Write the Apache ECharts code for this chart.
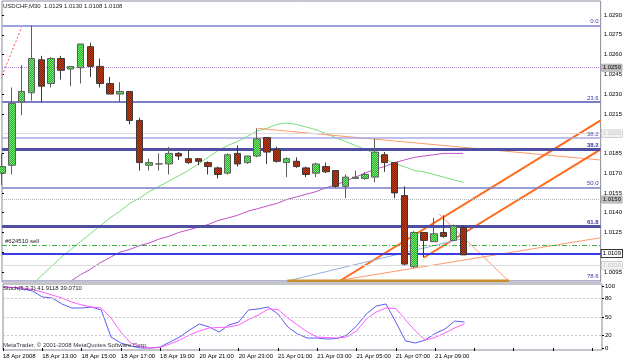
<!DOCTYPE html>
<html><head><meta charset="utf-8">
<script src="https://cdn.jsdelivr.net/npm/echarts@6/dist/echarts.min.js"></script>
<style>html,body{margin:0;padding:0;background:#fff}#c{width:625px;height:363px}</style>
</head><body><div id="c"></div>
<script>
// ---------- data ----------
const times = ['18 Apr 2008','18 Apr 11:30','18 Apr 12:00','18 Apr 12:30','18 Apr 13:00','18 Apr 13:30','18 Apr 14:00','18 Apr 14:30',
'18 Apr 15:00','18 Apr 15:30','18 Apr 16:00','18 Apr 16:30','18 Apr 17:00','18 Apr 17:30','18 Apr 18:00','18 Apr 18:30',
'18 Apr 19:00','18 Apr 19:30','18 Apr 20:00','18 Apr 20:30','20 Apr 21:00','20 Apr 21:30','20 Apr 22:00','20 Apr 22:30',
'20 Apr 23:00','20 Apr 23:30','21 Apr 00:00','21 Apr 00:30','21 Apr 01:00','21 Apr 01:30','21 Apr 02:00','21 Apr 02:30',
'21 Apr 03:00','21 Apr 03:30','21 Apr 04:00','21 Apr 04:30','21 Apr 05:00','21 Apr 05:30','21 Apr 06:00','21 Apr 06:30',
'21 Apr 07:00','21 Apr 07:30','21 Apr 08:00','21 Apr 08:30','21 Apr 09:00','21 Apr 09:30','21 Apr 10:00','21 Apr 10:30'];
const opens  = [1.0170,1.0176,1.0224,1.0231,1.0256,1.0238,1.0257,1.0249,1.0250,1.0266,1.0251,1.0238,1.0230,1.0232,1.0210,1.0176,1.0177,1.0177,1.0185,1.0181,1.0181,1.0178,1.0174,1.0170,1.0185,1.0178,1.0183,1.0197,1.0188,1.0178,1.0179,1.0174,1.0170,1.0175,1.0172,1.0160,1.0166,1.0166,1.0167,1.0184,1.0178,1.0153,1.0099,1.0125,1.0118,1.0125,1.0119,1.0129];
const closes = [1.0175,1.0223,1.0232,1.0257,1.0236,1.0257,1.0248,1.0251,1.0268,1.0251,1.0238,1.0230,1.0232,1.0210,1.0178,1.0178,1.0177,1.0185,1.0183,1.0178,1.0179,1.0175,1.0169,1.0184,1.0177,1.0183,1.0196,1.0186,1.0179,1.0181,1.0175,1.0169,1.0177,1.0171,1.0160,1.0167,1.0167,1.0169,1.0186,1.0178,1.0155,1.0101,1.0125,1.0119,1.0124,1.0122,1.0130,1.0108];
const lows   = [1.0161,1.0169,1.0214,1.0225,1.0224,1.0235,1.0241,1.0236,1.0238,1.0243,1.0235,1.0230,1.0224,1.0207,1.0172,1.0172,1.0172,1.0169,1.0180,1.0177,1.0176,1.0169,1.0166,1.0169,1.0175,1.0177,1.0182,1.0177,1.0178,1.0167,1.0174,1.0167,1.0167,1.0170,1.0159,1.0151,1.0166,1.0165,1.0163,1.0171,1.0151,1.0100,1.0098,1.0106,1.0118,1.0121,1.0119,1.0108];
const highs  = [1.0185,1.0235,1.0252,1.0282,1.0259,1.0258,1.0259,1.0251,1.0268,1.0269,1.0257,1.0243,1.0239,1.0232,1.0212,1.0181,1.0185,1.0190,1.0186,1.0188,1.0181,1.0179,1.0175,1.0185,1.0191,1.0183,1.0204,1.0197,1.0190,1.0182,1.0182,1.0175,1.0178,1.0178,1.0172,1.0169,1.0172,1.0171,1.0196,1.0186,1.0178,1.0160,1.0126,1.0125,1.0136,1.0138,1.0131,1.0130];
const maGreen = [null,null,null,1.0085,1.0092,1.0099,1.0106,1.0112,1.0118,1.0124,1.0130,1.0136,1.0141,1.0147,1.0151,1.0156,1.0160,1.0164,1.0168,1.0172,1.0177,1.0182,1.0187,1.0191,1.0194,1.0198,1.0202,1.0204,1.0207,1.0208,1.0207,1.0205,1.0203,1.0200,1.0197,1.0194,1.0191,1.0188,1.0185,1.0181,1.0177,1.0175,1.0172,1.0171,1.0169,1.0167,1.0165,1.0163];
const maPurple = [null,null,null,null,null,null,null,1.0088,1.0093,1.0097,1.0102,1.0106,1.0110,1.0112,1.0115,1.0117,1.0120,1.0122,1.0125,1.0127,1.0129,1.0131,1.0134,1.0136,1.0138,1.0141,1.0143,1.0145,1.0147,1.0150,1.0152,1.0154,1.0156,1.0159,1.0161,1.0164,1.0167,1.0170,1.0173,1.0175,1.0178,1.0180,1.0182,1.0183,1.0184,1.0185,1.0185,1.0185];
const stochMain = [98.4,97.6,95.2,91.9,82.3,80.6,71.0,64.5,64.5,66.1,61.3,17.7,8.1,3.2,0,0,1.6,9.7,17.7,29.0,38.7,33.9,25.8,37.1,41.9,61.3,62.9,66.1,54.8,33.9,22.6,16.1,16.1,14.5,15.3,21.0,35.5,54.8,67.7,71.0,41.9,11.3,8.1,12.9,23.4,30.6,43.5,41.9118];
const stochSignal = [98.0,97.6,96.8,94.4,90.3,85.5,80.6,74.2,69.4,66.1,64.5,48.4,25.8,8.1,2.4,0,0.8,6.5,12.9,21.0,27.4,32.3,33.0,33.9,37.1,46.0,53.0,62.9,62.0,48.4,37.1,25.8,17.7,16.9,16.1,17.7,27.4,46.8,58.0,64.5,63.7,45.2,27.4,12.9,17.0,24.2,32.3,39.0710];
const priceTicks = [1.0095,1.0110,1.0125,1.0140,1.0155,1.0170,1.0185,1.0200,1.0215,1.0230,1.0245,1.0260,1.0275,1.0290];
const stochTicks = [0,20,50,80,100];
const fibPrices = [1.0282,1.0224,1.0188,1.0159,1.0130,1.0089];
const fibNames  = ['0.0','23.6','38.2','50.0','61.8','78.6'];
const extraFibPrice = 1.0197, extraFibName = '38.2';
const roundLevels = [1.0250,1.0200,1.0150,1.0100];
const bidPrice = 1.0109;
const sellPrice = 1.0115, sellName = '#624510 sell';
// trend lines: [barPosition, price]
const fibDiagonal   = [[0,1.0244],[2.03,1.0281]];
const salmonTop     = [[26.03,1.0204],[61,1.0180]];
const channelUpper  = [[34.36,1.0088],[61,1.0210]];
const channelLower  = [[43,1.0106],[61,1.0188]];
const salmonBottom  = [[34.67,1.0089],[61,1.0121]];
const salmonDown    = [[44.53,1.0139],[51.65,1.0088]];
const blueLine      = [[28.98,1.0088],[46.77,1.0120]];
const brownBase     = [[29.08,1.00883],[51.65,1.00883]];

// ---------- chart ----------
const SLOTS = 62;
const cats = times.concat(new Array(SLOTS - times.length).fill(''));
const FONT = 'Liberation Sans';
const FS = 6;
function checker(a, b) {
  const cv = document.createElement('canvas'); cv.width = 2; cv.height = 2;
  const g = cv.getContext('2d'); g.fillStyle = a; g.fillRect(0,0,2,2);
  g.fillStyle = b; g.fillRect(0,0,1,1); g.fillRect(1,1,1,1);
  return { image: cv, repeat: 'repeat' };
}
const candleData = opens.map((o,i)=>[o, closes[i], lows[i], highs[i]]);
const n = candleData.length;

const hLines = [];
fibPrices.forEach((p,i)=>{
  const thick = (i===2 || i===4);
  const last = (i===5);
  hLines.push({yAxis:p, lineStyle:{color: thick?'#4e4ea2':(i===0?'#a0a0dc':(last?'#b0b0d8':'#7c7cc8')), width: thick?3:(i===0||i===1?2:(last?1:1.5)), type:'solid'},
    label:{show:true, position:'insideEndTop', formatter: fibNames[i], color:'#3838a0', fontSize:FS, fontFamily:FONT, fontWeight: thick?'bold':'normal', distance:[2,1]}});
});
hLines.push({yAxis:extraFibPrice, lineStyle:{color:'#a8a8e4', width:1.5, type:'solid'},
  label:{show:true, position:'insideEndTop', formatter: extraFibName, color:'#5050a8', fontSize:FS, fontFamily:FONT, distance:[2,0]}});
const roundStyles = [
  {color:'#b48ad6', type:'dotted', width:1, bg:'#bdbdbd', fg:'#111'},
  {color:'#dadada', type:'solid', width:1, bg:'#f2f2f2', fg:'#c4c4c4'},
  {color:'#b4b4b4', type:'dotted', width:1, bg:'#bdbdbd', fg:'#111'},
  {color:'#dadada', type:'solid', width:1, bg:'#f2f2f2', fg:'#c4c4c4'}
];
roundLevels.forEach((p,i)=>{
  const s = roundStyles[i];
  hLines.push({yAxis:p, lineStyle:{color:s.color, width:s.width, type:s.type},
    label:{show:true, position:'end', formatter: p.toFixed(4), color:s.fg, backgroundColor:s.bg, borderColor:'#aaa', borderWidth:0.5, padding:[1,1,0,1], fontSize:FS, fontFamily:FONT, distance:1}});
});
hLines.push({yAxis:sellPrice, lineStyle:{color:'#3cb03c', width:1, type:[5,2,1,2]},
  label:{show:true, position:'insideStartTop', formatter: sellName, color:'#222', fontSize:FS, fontFamily:FONT, distance:[3,1]}});
hLines.push({yAxis:bidPrice, lineStyle:{color:'#3a3ae6', width:2, type:'solid'},
  label:{show:true, position:'end', formatter: bidPrice.toFixed(4), color:'#000', backgroundColor:'#fff', borderColor:'#333', borderWidth:1, padding:[1,1,0,1], fontSize:FS, fontFamily:FONT, distance:1}});

function tline(data, color, width, type, z) {
  return {type:'line', xAxisIndex:1, yAxisIndex:0, data:data, showSymbol:false, symbol:'none', silent:true,
    lineStyle:{color:color, width:width, type:type||'solid'}, z:z||4, animation:false};
}

const chart = echarts.init(document.getElementById('c'), null, {renderer:'canvas'});
chart.setOption({
  animation:false,
  backgroundColor:'#ffffff',
  grid:[
    {left:2, right:23, top:1, height:281, show:true, borderColor:'#8a8a9a', borderWidth:1},
    {left:2, right:23, top:284, height:66, show:true, borderColor:'#8a8a9a', borderWidth:1}
  ],
  xAxis:[
    {type:'category', gridIndex:0, data:cats, boundaryGap:false, axisLine:{show:false}, axisTick:{show:false}, axisLabel:{show:false}, splitLine:{show:false}},
    {type:'value', gridIndex:0, min:0, max:SLOTS-1, show:false},
    {type:'category', gridIndex:1, data:cats, boundaryGap:false, axisLine:{show:false},
      axisTick:{show:true, interval:3, length:3, lineStyle:{color:'#000'}},
      axisLabel:{show:true, interval:3, align:'left', margin:3, fontSize:FS, fontFamily:FONT, color:'#000',
        formatter:(v)=>v}, splitLine:{show:false}}
  ],
  yAxis:[
    {type:'value', gridIndex:0, position:'right', min:1.008742, max:1.030062,
      axisLine:{show:false}, splitLine:{show:false},
      axisTick:{show:true, length:2, customValues:priceTicks, lineStyle:{color:'#000'}},
      axisLabel:{show:true, customValues:priceTicks, margin:3, fontSize:FS, fontFamily:FONT, color:'#000', formatter:(v)=>v.toFixed(4)}},
    {type:'value', gridIndex:1, position:'right', min:-3.2, max:103.2,
      axisLine:{show:false}, splitLine:{show:false},
      axisTick:{show:true, length:2, customValues:stochTicks, lineStyle:{color:'#000'}},
      axisLabel:{show:true, customValues:stochTicks, margin:3, fontSize:FS, fontFamily:FONT, color:'#000'}}
  ],
  series:[
    {type:'line', xAxisIndex:0, yAxisIndex:0, data:maGreen, showSymbol:false, symbol:'none', silent:true, z:3,
      lineStyle:{color:'#7adc7a', width:1},
      markLine:{silent:true, precision:6, symbol:['none','none'], animation:false, data:hLines}},
    {type:'line', xAxisIndex:0, yAxisIndex:0, data:maPurple, showSymbol:false, symbol:'none', silent:true, z:3,
      lineStyle:{color:'#c050c8', width:1}},
    tline(fibDiagonal, '#ff5050', 1, [2,2]),
    tline(salmonTop, '#ff9a6a', 1),
    tline(channelUpper, '#ff6a1a', 2),
    tline(channelLower, '#ff6a1a', 2),
    tline(salmonBottom, '#ff9a6a', 1),
    tline(salmonDown, '#ff9a6a', 1),
    tline(blueLine, '#90b0dc', 1),
    tline(brownBase, '#c8902a', 2.5, 'solid', 6),
    {type:'candlestick', xAxisIndex:0, yAxisIndex:0, data:candleData, barWidth:7, z:5, silent:true,
      itemStyle:{color:checker('#1fb81f','#7ee27e'), color0:checker('#c83a10','#7a2410'),
        borderColor:'#5f5f5f', borderColor0:'#3a3a3a', borderColorDoji:'#5f5f5f', borderWidth:1}},
    {type:'line', xAxisIndex:2, yAxisIndex:1, data:stochMain, showSymbol:false, symbol:'none', silent:true,
      lineStyle:{color:'#5c5cf0', width:1},
      markLine:{silent:true, symbol:['none','none'], label:{show:false}, lineStyle:{color:'#c8c8c8', type:[2,2], width:1},
        data:[{yAxis:20},{yAxis:50},{yAxis:80}]}},
    {type:'line', xAxisIndex:2, yAxisIndex:1, data:stochSignal, showSymbol:false, symbol:'none', silent:true,
      lineStyle:{color:'#ff5cff', width:1}}
  ],
  graphic:[
    {type:'text', left:3, top:3, z:100, style:{text:'USDCHF,M30  ' + [opens[n-1],highs[n-1],lows[n-1],closes[n-1]].map(v=>v.toFixed(4)).join(' '), font:FS+'px '+FONT, fill:'#222'}},
    {type:'text', left:3, top:285, z:100, style:{text:'Stoch(5,3,3) ' + stochMain[n-1].toFixed(4) + ' ' + stochSignal[n-1].toFixed(4), font:FS+'px '+FONT, fill:'#222'}},
    {type:'text', left:3, top:342, z:100, style:{text:'MetaTrader, \u00a9 2001-2008 MetaQuotes Software Corp.', font:FS+'px '+FONT, fill:'#333'}}
  ]
});
</script></body></html>
